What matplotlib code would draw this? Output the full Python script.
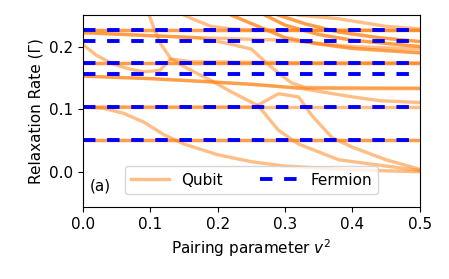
import matplotlib
matplotlib.use("Agg")
import matplotlib.pyplot as plt

# fermion relaxation rates (flat in v^2)
fermion_rates = [0.052, 0.104, 0.156, 0.174, 0.208, 0.226]

# qubit branches: (v^2 points, rate points)
flat_v = [0.0, 0.5]
flat_052 = [0.052, 0.052]
flat_104 = [0.104, 0.104]
flat_174 = [0.174, 0.174]
flat_226 = [0.226, 0.226]

sig_v = [0.0, 0.03, 0.06, 0.09, 0.12, 0.15, 0.20, 0.25, 0.30, 0.40, 0.50]
sig_r = [0.104, 0.102, 0.094, 0.080, 0.060, 0.045, 0.028, 0.017, 0.010, 0.004, 0.001]

a_v = [0.0, 0.10, 0.17, 0.25, 0.32, 0.40, 0.50]
a_r = [0.153, 0.149, 0.145, 0.140, 0.134, 0.133, 0.133]
a2_v = [0.0, 0.10, 0.17, 0.25, 0.32, 0.36, 0.40, 0.44, 0.50]
a2_r = [0.153, 0.149, 0.145, 0.140, 0.134, 0.127, 0.120, 0.114, 0.111]

q7_v = [0.0, 0.02, 0.045, 0.07, 0.09, 0.114, 0.13, 0.16, 0.25, 0.35, 0.50]
q7_r = [0.203, 0.186, 0.172, 0.164, 0.160, 0.162, 0.180, 0.176, 0.175, 0.174, 0.174]

b_v = [0.098, 0.105, 0.115, 0.13, 0.155, 0.19, 0.22, 0.26, 0.29, 0.32, 0.38, 0.50]
b_r = [0.250, 0.230, 0.205, 0.181, 0.165, 0.146, 0.128, 0.106, 0.067, 0.045, 0.020, 0.003]

d_v = [0.0, 0.255, 0.29, 0.32, 0.34, 0.37, 0.40, 0.45, 0.50]
d_r = [0.104, 0.104, 0.125, 0.120, 0.090, 0.055, 0.040, 0.020, 0.005]

e_v = [0.14, 0.16, 0.19, 0.22, 0.26, 0.50]
e_r = [0.255, 0.245, 0.232, 0.228, 0.226, 0.226]

f_v = [0.0, 0.17, 0.30, 0.40, 0.50]
f_r = [0.222, 0.214, 0.210, 0.200, 0.196]

l_v = [0.0, 0.17, 0.21, 0.25, 0.27, 0.29, 0.31, 0.33, 0.50]
l_r = [0.222, 0.214, 0.206, 0.196, 0.176, 0.158, 0.142, 0.135, 0.134]

g_v = [0.22, 0.26, 0.30, 0.35, 0.40, 0.50]
g_r = [0.250, 0.232, 0.214, 0.204, 0.197, 0.190]

h_v = [0.27, 0.30, 0.35, 0.40, 0.50]
h_r = [0.250, 0.234, 0.219, 0.210, 0.200]

i_v = [0.29, 0.33, 0.38, 0.44, 0.50]
i_r = [0.250, 0.236, 0.223, 0.214, 0.208]

j_v = [0.32, 0.38, 0.45, 0.50]
j_r = [0.250, 0.244, 0.232, 0.228]

# degenerate branches are listed twice so they come out darker
qubit_curves = [
    (flat_v, flat_052), (flat_v, flat_052),
    (flat_v, flat_104),
    (flat_v, flat_174), (flat_v, flat_174),
    (flat_v, flat_226), (flat_v, flat_226),
    (sig_v, sig_r), (a_v, a_r), (a2_v, a2_r), (q7_v, q7_r), (b_v, b_r),
    (d_v, d_r), (e_v, e_r), (f_v, f_r), (l_v, l_r),
    (g_v, g_r), (g_v, g_r), (h_v, h_r), (h_v, h_r),
    (i_v, i_r), (i_v, i_r), (j_v, j_r),
]

ORANGE = "#ff7f0e"
BLUE = "#0000ff"

fig = plt.figure(figsize=(4.49, 2.79), dpi=100)
ax = fig.add_axes([0.185, 0.258, 0.750, 0.688])

for k, (v, r) in enumerate(qubit_curves):
    ax.plot(v, r, color=ORANGE, alpha=0.5, lw=2.4,
            label="Qubit" if k == 0 else None, zorder=1)

for k, r in enumerate(fermion_rates):
    ax.plot([0.0, 0.5], [r, r], color=BLUE, lw=2.8, dashes=(3.2, 3.0),
            label="Fermion" if k == 0 else None, zorder=2)

ax.set_xlim(0, 0.5)
ax.set_ylim(-0.055, 0.25)
ax.set_xticks([0.0, 0.1, 0.2, 0.3, 0.4, 0.5])
ax.set_yticks([0.0, 0.1, 0.2])
ax.tick_params(labelsize=11)
ax.set_xlabel("Pairing parameter $v^2$", fontsize=11)
ax.set_ylabel("Relaxation Rate (Γ)", fontsize=11)

ax.text(0.01, -0.022, "(a)", fontsize=11, va="center", ha="left")
ax.legend(loc="lower center", bbox_to_anchor=(0.5, 0.03), ncol=2,
          fontsize=11, handlelength=2.5, columnspacing=2.4)

fig.savefig("out.png", dpi=100)
